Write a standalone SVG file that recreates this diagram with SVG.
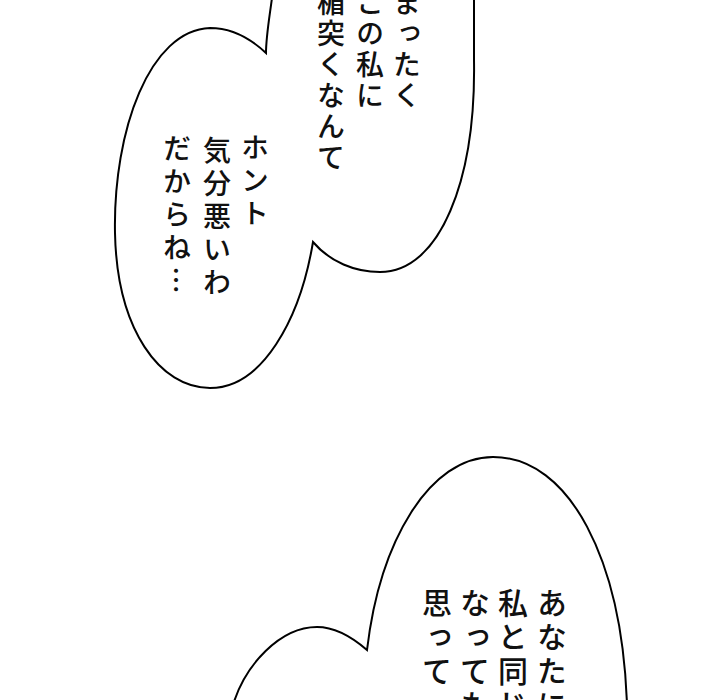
<svg xmlns="http://www.w3.org/2000/svg" width="720" height="700" viewBox="0 0 720 700">
<style>
.b{fill:#fff;stroke:#000;stroke-width:2}
.t{font-family:"Noto Sans CJK JP","Noto Sans CJK SC",sans-serif;writing-mode:vertical-rl;fill:#111;font-weight:500}
.s{font-size:28px;letter-spacing:3px}
.m{font-size:28px;letter-spacing:5px}
.l{font-size:30px;letter-spacing:4px}
</style>
<rect width="720" height="700" fill="#fff"/>
<g id="bubble-top">
<path class="b" d="M 266,53 C 250,38 232,28 210,28 C 150,30 113,130 115,233 C 117,330 160,388 210,388 C 262,388 300,320 313,242 C 330,262 355,272 380,272 C 440,272 476,180 474,60 L 474,-10 L 273,-10 C 270,15 266,35 266,53 Z"/>
<text class="t s" x="407" y="-12">まったく</text>
<text class="t s" x="370" y="-12">この私に</text>
<text class="t s" x="331" y="-12">楯突くなんて</text>
<text class="t m" x="255" y="133">ホント</text>
<text class="t m" x="217" y="136">気分悪いわ</text>
<text class="t m" x="177" y="134">だからね…</text>
</g>
<g id="bubble-bottom">
<path class="b" d="M 233,705 C 245,665 280,627 317,627 C 335,627 352,637 367,650 C 380,540 430,457 493,457 C 570,457 622,560 627,705 Z"/>
<text class="t l" x="552" y="588">あなたに</text>
<text class="t l" x="513" y="588">私と同じに</text>
<text class="t l" x="475" y="588">なっても</text>
<text class="t l" x="437" y="588">思って</text>
</g>
</svg>
